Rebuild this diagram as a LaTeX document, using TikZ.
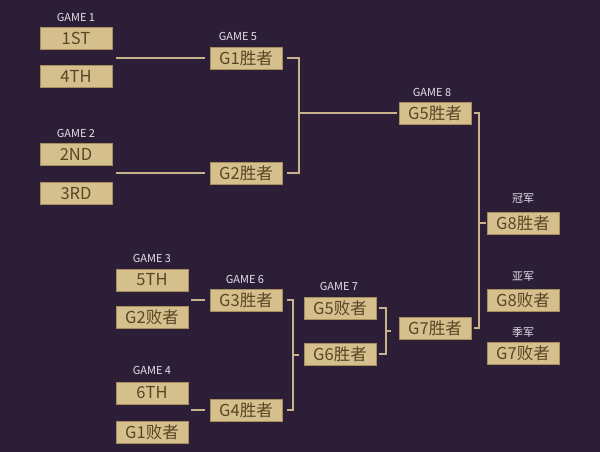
\documentclass[tikz,border=0pt]{standalone}
\usepackage{fontspec}
\setmainfont{Noto Sans CJK SC}
\usetikzlibrary{positioning,calc}
\definecolor{bgpurple}{HTML}{2C1E37}
\definecolor{boxtan}{HTML}{D5BF8C}
\definecolor{boxedge}{HTML}{A88E5C}
\definecolor{boxtext}{HTML}{5B4526}
\definecolor{linetan}{HTML}{C7B28B}
\definecolor{tagwhite}{HTML}{E6E2E8}

\begin{document}
\begin{tikzpicture}[x=1pt, y=-1pt,
	slot/.style={draw=boxedge, line width=0.6pt, fill=boxtan, text=boxtext, minimum width=72pt, minimum height=22pt, inner sep=0pt, font=\fontsize{16.5}{16.5}\selectfont},
	tag/.style={text=tagwhite, inner sep=1pt, font=\fontsize{11}{11}\selectfont},
	link/.style={draw=linetan, line width=1.1pt}]
	\fill[bgpurple] (0,0) rectangle (600,452);
	\useasboundingbox (0,0) rectangle (600,452);
	\begin{scope}
		% upper bracket
		\node[slot] (p1) at (76, 38.5) {1ST};
		\node[slot] (p4) at (76, 76.5) {4TH};
		\node[slot] (p2) at (76, 154.5) {2ND};
		\node[slot] (p3) at (76, 193.5) {3RD};
		\node[slot] (w1) at (246, 58) {G1胜者};
		\node[slot] (w2) at (246, 173) {G2胜者};
		\node[slot] (w5) at (435, 113) {G5胜者};

		% lower bracket
		\node[slot] (p5) at (152, 280) {5TH};
		\node[slot] (l2) at (152, 317) {G2败者};
		\node[slot] (p6) at (152, 393) {6TH};
		\node[slot] (l1) at (152, 432) {G1败者};
		\node[slot] (w3) at (246, 300) {G3胜者};
		\node[slot] (w4) at (246, 410) {G4胜者};
		\node[slot] (l5) at (340, 308) {G5败者};
		\node[slot] (w6) at (340, 354) {G6胜者};
		\node[slot] (w7) at (435, 328) {G7胜者};

		% final places
		\node[slot] (first)  at (523, 223) {G8胜者};
		\node[slot] (second) at (523, 300) {G8败者};
		\node[slot] (third)  at (523, 353) {G7败者};

		\node[tag] (t1) at (76, 17) {GAME 1};
		\node[tag] (t2) at (76, 133) {GAME 2};
		\node[tag] (t5) at (238, 36) {GAME 5};
		\node[tag] (t8) at (432, 92) {GAME 8};
		\node[tag] (t3) at (152, 258) {GAME 3};
		\node[tag] (t4) at (152, 370) {GAME 4};
		\node[tag] (t6) at (245, 279) {GAME 6};
		\node[tag] (t7) at (339, 286) {GAME 7};
		\node[tag] (m1) at (523, 199) {冠军};
		\node[tag] (m2) at (523, 277) {亚军};
		\node[tag] (m3) at (523, 332) {季军};

		\coordinate (g1) at (116, 58);
		\coordinate (g2) at (116, 173);
		\coordinate (g3) at (191, 300);
		\coordinate (g4) at (191, 410);
		\coordinate (j5) at (299, 113);
		\coordinate (j6) at (293, 355);
		\coordinate (j7) at (386, 331);
		\coordinate (j8) at (479, 223);

		\draw[link] (g1) -- ([xshift=-5pt]w1.west);
		\draw[link] (g2) -- ([xshift=-5pt]w2.west);
		\draw[link] (g3) -- ([xshift=-5pt]w3.west);
		\draw[link] (g4) -- ([xshift=-5pt]w4.west);

		\draw[link] ([xshift=5pt]w1.east) -| (j5) |- ([xshift=5pt]w2.east);
		\draw[link] (j5) -- ([xshift=-2pt]w5.west);
		\draw[link] ([xshift=5pt]w3.east) -| (j6) |- ([xshift=5pt]w4.east);
		\draw[link] (j6) -- ++(6,0);
		\draw[link] ([xshift=3pt]l5.east) -| (j7) |- ([xshift=3pt]w6.east);
		\draw[link] (j7) -- ++(5,0);
		\draw[link] ([xshift=3pt]w5.east) -| (j8) |- ([xshift=3pt]w7.east);
		\draw[link] (j8) -- ([xshift=-1pt]first.west);
	\end{scope}
\end{tikzpicture}
\end{document}
